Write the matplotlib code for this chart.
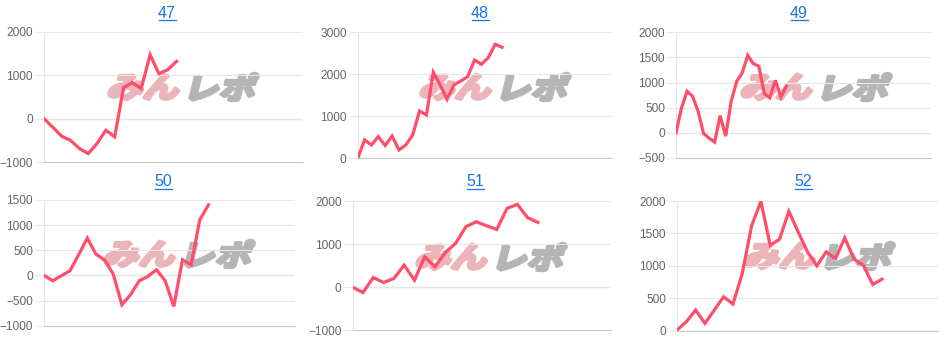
import matplotlib
matplotlib.use("Agg")
import matplotlib.pyplot as plt
import matplotlib.transforms as mtransforms
from matplotlib.textpath import TextPath
from matplotlib.patches import PathPatch
from matplotlib.font_manager import FontProperties
import numpy as np

# ---- data ----
titles = ["47", "48", "49", "50", "51", "52"]
s47 = [0, -200, -407, -500, -690, -805, -575, -268, -421, 713, 828, 690, 1471, 1034, 1126, 1318]
s48 = [0, 437, 317, 516, 302, 532, 198, 317, 556, 1127, 1032, 2048, 1746, 1405, 1746, 1841,
       1944, 2341, 2238, 2397, 2714, 2643]
s49 = [0, 497, 828, 728, 430, -13, -106, -185, 344, -66, 629, 1026, 1192, 1543, 1377, 1325,
       781, 695, 1046, 715, 927]
s50 = [0, -106, -7, 93, 411, 742, 424, 305, 26, -583, -384, -106, -20, 113, -106, -616,
       311, 212, 1106, 1404]
s51 = [0, -124, 225, 109, 202, 512, 163, 705, 473, 806, 1016, 1403, 1519, 1426, 1341, 1829,
       1922, 1612, 1504]
s52 = [10, 138, 318, 113, 318, 523, 410, 882, 1615, 1995, 1318, 1410, 1841, 1523, 1215, 1000,
       1215, 1113, 1431, 1103, 1010, 713, 795]
series = [s47, s48, s49, s50, s51, s52]
y_ranges = [(-1000, 2000, 1000), (0, 3000, 1000), (-500, 2000, 500),
            (-1000, 1500, 500), (-1000, 2000, 1000), (0, 2000, 500)]
x_extent = [29.3, 37.0, 46.2, 29.0, 25.1, 28.0]

# ---- layout (pixels, top-origin) ----
W, H = 948, 339
rects = [(44, 303, 31.7, 162), (357.7, 612, 32.3, 158.3), (676, 931, 32.3, 158),
         (44, 295, 200, 325.7), (352.7, 611, 201, 330.3), (677, 938, 201, 330.7)]
title_pos = [(167, 13), (480, 13), (799, 13), (163, 182), (475, 182), (803, 182)]
logo_pos = [(184, 87), (496, 87), (817, 87), (180, 254), (492, 257), (820, 256)]

LINE = "#ff4d6a"
GRID = "#e6e6e6"
TXT = "#666666"
BLUE = "#1a73e8"

plt.rcParams["font.family"] = ["Liberation Sans", "DejaVu Sans"]
fig = plt.figure(figsize=(W / 100, H / 100), dpi=100)
fig.patch.set_facecolor("white")

fp_logo = FontProperties(family="Noto Sans CJK JP", weight="bold")


def draw_logo(ax, cx, cy):
    ytop = H - cy
    for txt, col, dx in (("みん", "#ebb4b8", -39), ("レポ", "#b5b5b5", 40)):
        p = TextPath((0, 0), txt, prop=fp_logo, size=1)
        ext = p.get_extents()
        tr = (mtransforms.Affine2D()
              .translate(-(ext.x0 + ext.x1) / 2, -(ext.y0 + ext.y1) / 2)
              .scale(36, 29)
              .skew_deg(14, 0)
              .translate(cx + dx, ytop))
        patch = PathPatch(p, facecolor=col, edgecolor=col, lw=2.6,
                          joinstyle="round", transform=tr, zorder=1.5)
        ax.add_artist(patch)


for i in range(6):
    x0, x1, yt, yb = rects[i]
    ax = fig.add_axes([x0 / W, 1 - yb / H, (x1 - x0) / W, (yb - yt) / H])
    lo, hi, st = y_ranges[i]
    s = series[i]
    ax.plot(np.arange(len(s)), s, color=LINE, lw=2.3, zorder=3, solid_joinstyle="miter")
    ax.set_xlim(0, x_extent[i])
    ax.set_ylim(lo, hi)
    ax.set_yticks(np.arange(lo, hi + 1, st))
    ax.set_xticks([])
    ax.grid(axis="y", color=GRID, lw=0.8, zorder=0)
    ax.tick_params(axis="y", length=6.5, width=0.8, color=GRID, pad=1.5,
                   labelsize=8.6, labelcolor=TXT)
    ax.axhline(0, color="#bdbdbd", lw=0.8, zorder=1)
    for sp in ("top", "right"):
        ax.spines[sp].set_visible(False)
    ax.spines["left"].set_color(GRID)
    ax.spines["left"].set_linewidth(0.8)
    ax.spines["bottom"].set_color("#c8c8c8")
    ax.spines["bottom"].set_linewidth(0.8)
    draw_logo(ax, *logo_pos[i])

    tx, ty = title_pos[i]
    t = fig.text(tx / W, 1 - ty / H, titles[i], ha="center", va="center",
                 fontsize=11.5, color=BLUE)
    # underline
    fig.add_artist(plt.Line2D([(tx - 8.5) / W, (tx + 8.5) / W],
                              [1 - (ty + 6.8) / H, 1 - (ty + 6.8) / H],
                              color=BLUE, lw=0.9))

fig.savefig("out.png", dpi=100)
